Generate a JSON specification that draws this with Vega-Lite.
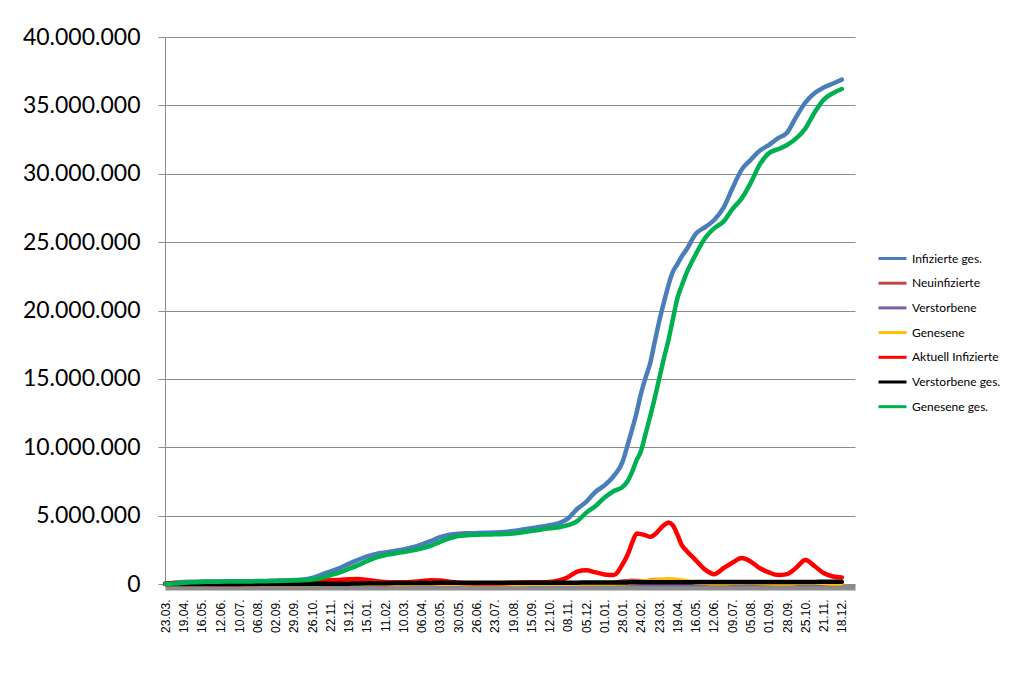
{
  "$schema": "https://vega.github.io/schema/vega-lite/v6.json",
  "width": 690,
  "height": 547,
  "autosize": "none",
  "padding": {"left": 165, "top": 37, "right": 168, "bottom": 104},
  "background": "white",
  "config": {
    "view": {"stroke": null},
    "locale": {"number": {"decimal": ",", "thousands": ".", "grouping": [3], "currency": ["", " €"]}},
    "legend": {
      "orient": "none", "legendX": 712, "legendY": 206, "padding": 0,
      "symbolType": "stroke", "symbolSize": 784, "symbolStrokeWidth": 3,
      "labelFont": "Lato", "labelFontSize": 12, "labelColor": "#000000",
      "labelOffset": 4, "title": null
    }
  },
  "data": {"values": [
    {"d":"2020-03-23","inf":30000,"neu":4000,"ver":30,"gen":500,"akt":25000,"vtg":100,"ggs":5000},
    {"d":"2020-04-06","inf":100000,"neu":4000,"ver":200,"gen":3000,"akt":65000,"vtg":1500,"ggs":30000},
    {"d":"2020-04-19","inf":145000,"neu":2000,"ver":200,"gen":4000,"akt":50000,"vtg":4500,"ggs":90000},
    {"d":"2020-05-03","inf":165000,"neu":1000,"ver":100,"gen":2000,"akt":25000,"vtg":6900,"ggs":133000},
    {"d":"2020-05-16","inf":175000,"neu":800,"ver":50,"gen":1000,"akt":13000,"vtg":7900,"ggs":154000},
    {"d":"2020-05-30","inf":182000,"neu":300,"ver":30,"gen":500,"akt":9000,"vtg":8500,"ggs":165000},
    {"d":"2020-06-12","inf":187000,"neu":300,"ver":10,"gen":400,"akt":7000,"vtg":8800,"ggs":171000},
    {"d":"2020-06-26","inf":194000,"neu":500,"ver":10,"gen":300,"akt":8000,"vtg":9000,"ggs":177000},
    {"d":"2020-07-10","inf":199000,"neu":400,"ver":10,"gen":400,"akt":6000,"vtg":9100,"ggs":184000},
    {"d":"2020-07-24","inf":205000,"neu":800,"ver":10,"gen":500,"akt":7000,"vtg":9200,"ggs":189000},
    {"d":"2020-08-06","inf":213000,"neu":900,"ver":10,"gen":600,"akt":9000,"vtg":9200,"ggs":195000},
    {"d":"2020-08-20","inf":228000,"neu":1600,"ver":10,"gen":900,"akt":15000,"vtg":9300,"ggs":204000},
    {"d":"2020-09-02","inf":245000,"neu":1300,"ver":10,"gen":1200,"akt":18000,"vtg":9400,"ggs":218000},
    {"d":"2020-09-16","inf":265000,"neu":1900,"ver":10,"gen":1400,"akt":20000,"vtg":9400,"ggs":236000},
    {"d":"2020-09-29","inf":290000,"neu":2300,"ver":10,"gen":1600,"akt":24000,"vtg":9500,"ggs":257000},
    {"d":"2020-10-13","inf":330000,"neu":5500,"ver":20,"gen":2500,"akt":43000,"vtg":9700,"ggs":277000},
    {"d":"2020-10-26","inf":450000,"neu":11000,"ver":50,"gen":5000,"akt":110000,"vtg":10200,"ggs":330000},
    {"d":"2020-11-09","inf":690000,"neu":16000,"ver":150,"gen":12000,"akt":230000,"vtg":11800,"ggs":450000},
    {"d":"2020-11-22","inf":930000,"neu":18000,"ver":200,"gen":16000,"akt":280000,"vtg":14600,"ggs":640000},
    {"d":"2020-12-06","inf":1170000,"neu":18000,"ver":300,"gen":17000,"akt":300000,"vtg":19000,"ggs":850000},
    {"d":"2020-12-19","inf":1470000,"neu":24000,"ver":600,"gen":20000,"akt":350000,"vtg":24900,"ggs":1100000},
    {"d":"2021-01-02","inf":1770000,"neu":12000,"ver":800,"gen":20000,"akt":360000,"vtg":34800,"ggs":1380000},
    {"d":"2021-01-15","inf":2020000,"neu":20000,"ver":1000,"gen":22000,"akt":300000,"vtg":45700,"ggs":1670000},
    {"d":"2021-01-29","inf":2200000,"neu":11000,"ver":800,"gen":20000,"akt":200000,"vtg":56000,"ggs":1950000},
    {"d":"2021-02-11","inf":2310000,"neu":8000,"ver":500,"gen":13000,"akt":140000,"vtg":62900,"ggs":2110000},
    {"d":"2021-02-25","inf":2420000,"neu":10000,"ver":300,"gen":9000,"akt":120000,"vtg":69500,"ggs":2230000},
    {"d":"2021-03-10","inf":2530000,"neu":11000,"ver":200,"gen":8000,"akt":120000,"vtg":72500,"ggs":2340000},
    {"d":"2021-03-24","inf":2690000,"neu":16000,"ver":200,"gen":10000,"akt":160000,"vtg":75200,"ggs":2460000},
    {"d":"2021-04-06","inf":2900000,"neu":10000,"ver":200,"gen":12000,"akt":220000,"vtg":77400,"ggs":2610000},
    {"d":"2021-04-20","inf":3150000,"neu":20000,"ver":300,"gen":17000,"akt":270000,"vtg":80300,"ggs":2800000},
    {"d":"2021-05-03","inf":3420000,"neu":9000,"ver":300,"gen":20000,"akt":260000,"vtg":83800,"ggs":3080000},
    {"d":"2021-05-17","inf":3600000,"neu":7000,"ver":200,"gen":18000,"akt":170000,"vtg":86600,"ggs":3340000},
    {"d":"2021-05-30","inf":3680000,"neu":2000,"ver":100,"gen":10000,"akt":90000,"vtg":88700,"ggs":3500000},
    {"d":"2021-06-13","inf":3710000,"neu":1000,"ver":50,"gen":4000,"akt":50000,"vtg":89800,"ggs":3570000},
    {"d":"2021-06-26","inf":3720000,"neu":600,"ver":30,"gen":2000,"akt":30000,"vtg":90600,"ggs":3600000},
    {"d":"2021-07-10","inf":3740000,"neu":900,"ver":20,"gen":1000,"akt":30000,"vtg":91100,"ggs":3620000},
    {"d":"2021-07-23","inf":3760000,"neu":2000,"ver":20,"gen":1200,"akt":40000,"vtg":91400,"ggs":3630000},
    {"d":"2021-08-06","inf":3800000,"neu":3000,"ver":20,"gen":2000,"akt":60000,"vtg":91700,"ggs":3650000},
    {"d":"2021-08-19","inf":3870000,"neu":8000,"ver":20,"gen":4000,"akt":90000,"vtg":92300,"ggs":3690000},
    {"d":"2021-09-02","inf":3980000,"neu":14000,"ver":50,"gen":9000,"akt":110000,"vtg":93100,"ggs":3780000},
    {"d":"2021-09-15","inf":4080000,"neu":12000,"ver":100,"gen":11000,"akt":120000,"vtg":94100,"ggs":3870000},
    {"d":"2021-09-29","inf":4180000,"neu":11000,"ver":100,"gen":11000,"akt":120000,"vtg":94700,"ggs":3970000},
    {"d":"2021-10-12","inf":4300000,"neu":11000,"ver":100,"gen":10000,"akt":140000,"vtg":95000,"ggs":4070000},
    {"d":"2021-10-26","inf":4450000,"neu":23000,"ver":100,"gen":12000,"akt":260000,"vtg":96000,"ggs":4150000},
    {"d":"2021-11-08","inf":4780000,"neu":24000,"ver":200,"gen":18000,"akt":500000,"vtg":97500,"ggs":4300000},
    {"d":"2021-11-22","inf":5500000,"neu":30000,"ver":300,"gen":25000,"akt":900000,"vtg":99500,"ggs":4600000},
    {"d":"2021-12-05","inf":6000000,"neu":40000,"ver":400,"gen":35000,"akt":1000000,"vtg":103000,"ggs":5200000},
    {"d":"2021-12-19","inf":6750000,"neu":30000,"ver":400,"gen":40000,"akt":850000,"vtg":107000,"ggs":5700000},
    {"d":"2022-01-01","inf":7200000,"neu":20000,"ver":300,"gen":40000,"akt":700000,"vtg":112000,"ggs":6300000},
    {"d":"2022-01-15","inf":7900000,"neu":80000,"ver":200,"gen":45000,"akt":650000,"vtg":115000,"ggs":6800000},
    {"d":"2022-01-28","inf":8950000,"neu":190000,"ver":200,"gen":50000,"akt":1450000,"vtg":117000,"ggs":7100000},
    {"d":"2022-02-04","inf":10100000,"neu":200000,"ver":200,"gen":70000,"akt":2100000,"vtg":118500,"ggs":7500000},
    {"d":"2022-02-11","inf":11300000,"neu":240000,"ver":200,"gen":100000,"akt":3000000,"vtg":120000,"ggs":8200000},
    {"d":"2022-02-18","inf":12600000,"neu":220000,"ver":200,"gen":130000,"akt":3700000,"vtg":121000,"ggs":9100000},
    {"d":"2022-02-24","inf":13900000,"neu":200000,"ver":200,"gen":170000,"akt":3650000,"vtg":122000,"ggs":9700000},
    {"d":"2022-03-03","inf":15100000,"neu":200000,"ver":200,"gen":200000,"akt":3550000,"vtg":124000,"ggs":11000000},
    {"d":"2022-03-10","inf":16200000,"neu":260000,"ver":200,"gen":220000,"akt":3450000,"vtg":125500,"ggs":12300000},
    {"d":"2022-03-16","inf":17600000,"neu":290000,"ver":200,"gen":250000,"akt":3600000,"vtg":127000,"ggs":13500000},
    {"d":"2022-03-23","inf":19200000,"neu":300000,"ver":300,"gen":280000,"akt":3950000,"vtg":128000,"ggs":15000000},
    {"d":"2022-03-30","inf":20600000,"neu":270000,"ver":300,"gen":330000,"akt":4300000,"vtg":130000,"ggs":16500000},
    {"d":"2022-04-06","inf":21900000,"neu":200000,"ver":300,"gen":350000,"akt":4500000,"vtg":131000,"ggs":17900000},
    {"d":"2022-04-12","inf":22800000,"neu":140000,"ver":200,"gen":330000,"akt":4300000,"vtg":133000,"ggs":19300000},
    {"d":"2022-04-19","inf":23400000,"neu":50000,"ver":200,"gen":300000,"akt":3600000,"vtg":134000,"ggs":20900000},
    {"d":"2022-04-26","inf":24000000,"neu":140000,"ver":200,"gen":250000,"akt":2800000,"vtg":135000,"ggs":21900000},
    {"d":"2022-05-03","inf":24500000,"neu":120000,"ver":200,"gen":200000,"akt":2400000,"vtg":136000,"ggs":22800000},
    {"d":"2022-05-16","inf":25600000,"neu":90000,"ver":200,"gen":130000,"akt":1750000,"vtg":138000,"ggs":24100000},
    {"d":"2022-05-30","inf":26100000,"neu":60000,"ver":100,"gen":90000,"akt":1050000,"vtg":139000,"ggs":25300000},
    {"d":"2022-06-12","inf":26600000,"neu":30000,"ver":100,"gen":60000,"akt":720000,"vtg":140000,"ggs":26000000},
    {"d":"2022-06-26","inf":27500000,"neu":110000,"ver":100,"gen":60000,"akt":1150000,"vtg":141000,"ggs":26500000},
    {"d":"2022-07-09","inf":28900000,"neu":100000,"ver":100,"gen":90000,"akt":1550000,"vtg":142000,"ggs":27400000},
    {"d":"2022-07-23","inf":30300000,"neu":80000,"ver":100,"gen":100000,"akt":1900000,"vtg":144000,"ggs":28200000},
    {"d":"2022-08-05","inf":31000000,"neu":60000,"ver":100,"gen":110000,"akt":1650000,"vtg":145000,"ggs":29300000},
    {"d":"2022-08-19","inf":31700000,"neu":40000,"ver":100,"gen":80000,"akt":1150000,"vtg":146000,"ggs":30700000},
    {"d":"2022-09-01","inf":32100000,"neu":40000,"ver":100,"gen":50000,"akt":850000,"vtg":148000,"ggs":31500000},
    {"d":"2022-09-15","inf":32600000,"neu":40000,"ver":100,"gen":40000,"akt":650000,"vtg":149000,"ggs":31800000},
    {"d":"2022-09-28","inf":33000000,"neu":90000,"ver":100,"gen":40000,"akt":720000,"vtg":150000,"ggs":32100000},
    {"d":"2022-10-12","inf":34200000,"neu":130000,"ver":100,"gen":70000,"akt":1200000,"vtg":151000,"ggs":32600000},
    {"d":"2022-10-25","inf":35200000,"neu":80000,"ver":100,"gen":100000,"akt":1750000,"vtg":153000,"ggs":33300000},
    {"d":"2022-11-08","inf":35900000,"neu":50000,"ver":100,"gen":100000,"akt":1300000,"vtg":155000,"ggs":34500000},
    {"d":"2022-11-21","inf":36300000,"neu":30000,"ver":100,"gen":80000,"akt":800000,"vtg":157000,"ggs":35400000},
    {"d":"2022-12-05","inf":36600000,"neu":30000,"ver":100,"gen":40000,"akt":550000,"vtg":159000,"ggs":35900000},
    {"d":"2022-12-18","inf":36880000,"neu":20000,"ver":100,"gen":30000,"akt":480000,"vtg":161000,"ggs":36200000}
  ]},
  "transform": [
    {"fold": ["inf", "neu", "ver", "gen", "akt", "vtg", "ggs"], "as": ["key", "value"]}
  ],
  "encoding": {
    "x": {
      "field": "d", "type": "temporal",
      "scale": {"type": "utc", "domain": [{"year": 2020, "month": 3, "date": 22, "hours": 12, "utc": true}, {"year": 2023, "month": 1, "date": 6, "hours": 12, "utc": true}]},
      "axis": {
        "title": null, "format": "%d.%m.", "labelAngle": -90, "labelAlign": "right", "labelBaseline": "middle",
        "labelFont": "Liberation Sans", "labelFontSize": 12, "labelColor": "#000000", "labelPadding": 12,
        "ticks": false, "grid": false, "domainColor": "#8c8c8c", "domainWidth": 6, "offset": 3,
        "labelOverlap": false, "labelFlush": false,
        "values": [
          {"year":2020,"month":3,"date":23,"utc":true},{"year":2020,"month":4,"date":19,"utc":true},{"year":2020,"month":5,"date":16,"utc":true},{"year":2020,"month":6,"date":12,"utc":true},
          {"year":2020,"month":7,"date":10,"utc":true},{"year":2020,"month":8,"date":6,"utc":true},{"year":2020,"month":9,"date":2,"utc":true},{"year":2020,"month":9,"date":29,"utc":true},
          {"year":2020,"month":10,"date":26,"utc":true},{"year":2020,"month":11,"date":22,"utc":true},{"year":2020,"month":12,"date":19,"utc":true},{"year":2021,"month":1,"date":15,"utc":true},
          {"year":2021,"month":2,"date":11,"utc":true},{"year":2021,"month":3,"date":10,"utc":true},{"year":2021,"month":4,"date":6,"utc":true},{"year":2021,"month":5,"date":3,"utc":true},
          {"year":2021,"month":5,"date":30,"utc":true},{"year":2021,"month":6,"date":26,"utc":true},{"year":2021,"month":7,"date":23,"utc":true},{"year":2021,"month":8,"date":19,"utc":true},
          {"year":2021,"month":9,"date":15,"utc":true},{"year":2021,"month":10,"date":12,"utc":true},{"year":2021,"month":11,"date":8,"utc":true},{"year":2021,"month":12,"date":5,"utc":true},
          {"year":2022,"month":1,"date":1,"utc":true},{"year":2022,"month":1,"date":28,"utc":true},{"year":2022,"month":2,"date":24,"utc":true},{"year":2022,"month":3,"date":23,"utc":true},
          {"year":2022,"month":4,"date":19,"utc":true},{"year":2022,"month":5,"date":16,"utc":true},{"year":2022,"month":6,"date":12,"utc":true},{"year":2022,"month":7,"date":9,"utc":true},
          {"year":2022,"month":8,"date":5,"utc":true},{"year":2022,"month":9,"date":1,"utc":true},{"year":2022,"month":9,"date":28,"utc":true},{"year":2022,"month":10,"date":25,"utc":true},
          {"year":2022,"month":11,"date":21,"utc":true},{"year":2022,"month":12,"date":18,"utc":true}
        ]
      }
    },
    "y": {
      "field": "value", "type": "quantitative",
      "scale": {"domain": [0, 40000000], "nice": false, "zero": true},
      "axis": {
        "title": null, "values": [0, 5000000, 10000000, 15000000, 20000000, 25000000, 30000000, 35000000, 40000000],
        "format": ",d", "labelFont": "Lato", "labelFontSize": 23, "labelColor": "#000000", "labelPadding": 18,
        "tickSize": 7, "tickColor": "#8c8c8c", "domainColor": "#8c8c8c", "gridColor": "#8c8c8c", "gridWidth": 1
      }
    },
    "color": {
      "field": "key", "type": "nominal",
      "scale": {"domain": ["inf", "neu", "ver", "gen", "akt", "vtg", "ggs"], "range": ["#4A7EBB", "#BE4B48", "#7D60A0", "#FFC000", "#FF0000", "#000000", "#00B050"]},
      "legend": {
        "rowPadding": 2.7,
        "labelExpr": "datum.label == 'inf' ? 'Infizierte ges.' : datum.label == 'neu' ? 'Neuinfizierte' : datum.label == 'ver' ? 'Verstorbene' : datum.label == 'gen' ? 'Genesene' : datum.label == 'akt' ? 'Aktuell Infizierte' : datum.label == 'vtg' ? 'Verstorbene ges.' : 'Genesene ges.'"
      }
    }
  },
  "layer": [
    {"transform": [{"filter": "datum.key == 'inf'"}], "mark": {"type": "line", "strokeWidth": 4.5, "interpolate": "monotone", "strokeCap": "round"}},
    {"transform": [{"filter": "datum.key == 'neu'"}], "mark": {"type": "line", "strokeWidth": 4.5, "interpolate": "monotone", "strokeCap": "round"}},
    {"transform": [{"filter": "datum.key == 'ver'"}], "mark": {"type": "line", "strokeWidth": 4.5, "interpolate": "monotone", "strokeCap": "round"}},
    {"transform": [{"filter": "datum.key == 'gen'"}], "mark": {"type": "line", "strokeWidth": 4.5, "interpolate": "monotone", "strokeCap": "round"}},
    {"transform": [{"filter": "datum.key == 'akt'"}], "mark": {"type": "line", "strokeWidth": 4.5, "interpolate": "monotone", "strokeCap": "round"}},
    {"transform": [{"filter": "datum.key == 'vtg'"}], "mark": {"type": "line", "strokeWidth": 4.5, "interpolate": "monotone", "strokeCap": "round"}},
    {"transform": [{"filter": "datum.key == 'ggs'"}], "mark": {"type": "line", "strokeWidth": 4.5, "interpolate": "monotone", "strokeCap": "round"}}
  ]
}
